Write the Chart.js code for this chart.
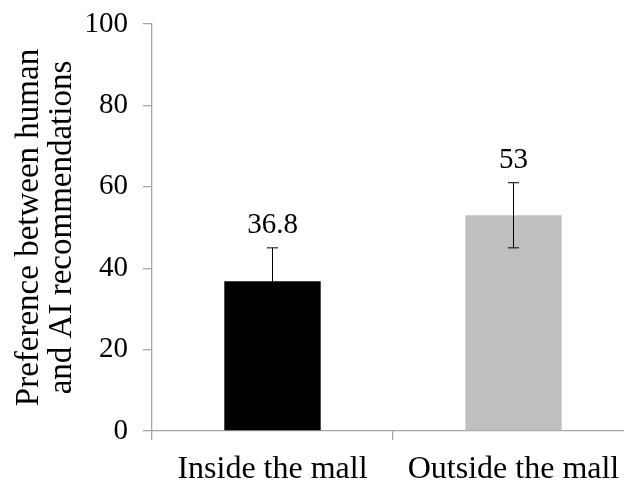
<!DOCTYPE html>
<html lang="en">
<head>
    <meta charset="UTF-8">
    <title>Preference between human and AI recommendations</title>
    <script src="https://cdn.jsdelivr.net/npm/chart.js"></script>
    <style>
        html, body {
            margin: 0;
            padding: 0;
            background: #fff;
            overflow: hidden;
        }
        .box {
            width: 640px;
            height: 485px;
        }
    </style>
</head>
<body>
    <div class="box"><canvas id="grafico"></canvas></div>

    <script>
        // data
        const categorias = ["Inside the mall", "Outside the mall"];
        const valores = [36.8, 53];
        const erros = [8.2, 8];
        const rotulos = ["36.8", "53"];
        const cores = ["#000000", "#bfbfbf"];
        const yTicks = [0, 20, 40, 60, 80, 100];
        const tituloY = ["Preference between human", "and AI recommendations"];

        const serif = "'Liberation Serif', 'Times New Roman', serif";
        const cinza = "#a6a6a6";

        // error bars + value labels, drawn through the scales
        const errorBars = {
            id: "errorBars",
            afterDatasetsDraw(chart) {
                const ctx = chart.ctx;
                const meta = chart.getDatasetMeta(0);
                const y = chart.scales.y;
                ctx.save();
                meta.data.forEach((bar, i) => {
                    const x = bar.x;
                    const yTop = y.getPixelForValue(valores[i] + erros[i]);
                    const yBot = y.getPixelForValue(valores[i] - erros[i]);
                    ctx.strokeStyle = "#000";
                    ctx.lineWidth = 1;
                    ctx.beginPath();
                    ctx.moveTo(x, yTop); ctx.lineTo(x, yBot);
                    ctx.moveTo(x - 5.5, yTop); ctx.lineTo(x + 5.5, yTop);
                    ctx.moveTo(x - 5.5, yBot); ctx.lineTo(x + 5.5, yBot);
                    ctx.stroke();

                    ctx.fillStyle = "#000";
                    ctx.font = "29px " + serif;
                    ctx.textAlign = "center";
                    ctx.textBaseline = "bottom";
                    ctx.fillText(rotulos[i], x, yTop - 8);
                });
                ctx.restore();
            }
        };

        new Chart(document.getElementById("grafico"), {
            type: "bar",
            data: {
                labels: categorias,
                datasets: [{
                    data: valores,
                    backgroundColor: cores,
                    borderWidth: 0,
                    barPercentage: 0.4,
                    categoryPercentage: 1
                }]
            },
            options: {
                responsive: true,
                maintainAspectRatio: false,
                animation: false,
                layout: { padding: { left: 0, right: 6, top: 24, bottom: 0 } },
                plugins: {
                    legend: { display: false },
                    tooltip: { enabled: false }
                },
                scales: {
                    x: {
                        offset: true,
                        border: { color: cinza, width: 1.3 },
                        grid: {
                            display: true,
                            offset: true,
                            drawOnChartArea: false,
                            color: cinza,
                            tickLength: 9,
                            lineWidth: 1.3
                        },
                        ticks: {
                            color: "#000",
                            font: { family: serif, size: 32 },
                            padding: 10,
                            maxRotation: 0
                        },
                        afterFit(scale) {
                            scale.height = 54;
                            scale.paddingLeft = 0;
                            scale.paddingRight = 0;
                        }
                    },
                    y: {
                        min: 0,
                        max: 100,
                        afterBuildTicks(scale) {
                            scale.ticks = yTicks.map(v => ({ value: v }));
                        },
                        border: { color: cinza, width: 1.3 },
                        grid: {
                            display: true,
                            drawOnChartArea: false,
                            color: cinza,
                            tickLength: 9,
                            lineWidth: 1.3
                        },
                        ticks: {
                            color: "#000",
                            font: { family: serif, size: 29 },
                            padding: 15
                        },
                        title: {
                            display: true,
                            text: tituloY,
                            color: "#000",
                            font: { family: serif, size: 33, lineHeight: 1.0 },
                            padding: { top: 13, bottom: 0 }
                        },
                        afterFit(scale) {
                            scale.width = 152;
                            scale.paddingTop = 0;
                            scale.paddingBottom = 0;
                        }
                    }
                }
            },
            plugins: [errorBars]
        });
    </script>
</body>
</html>
